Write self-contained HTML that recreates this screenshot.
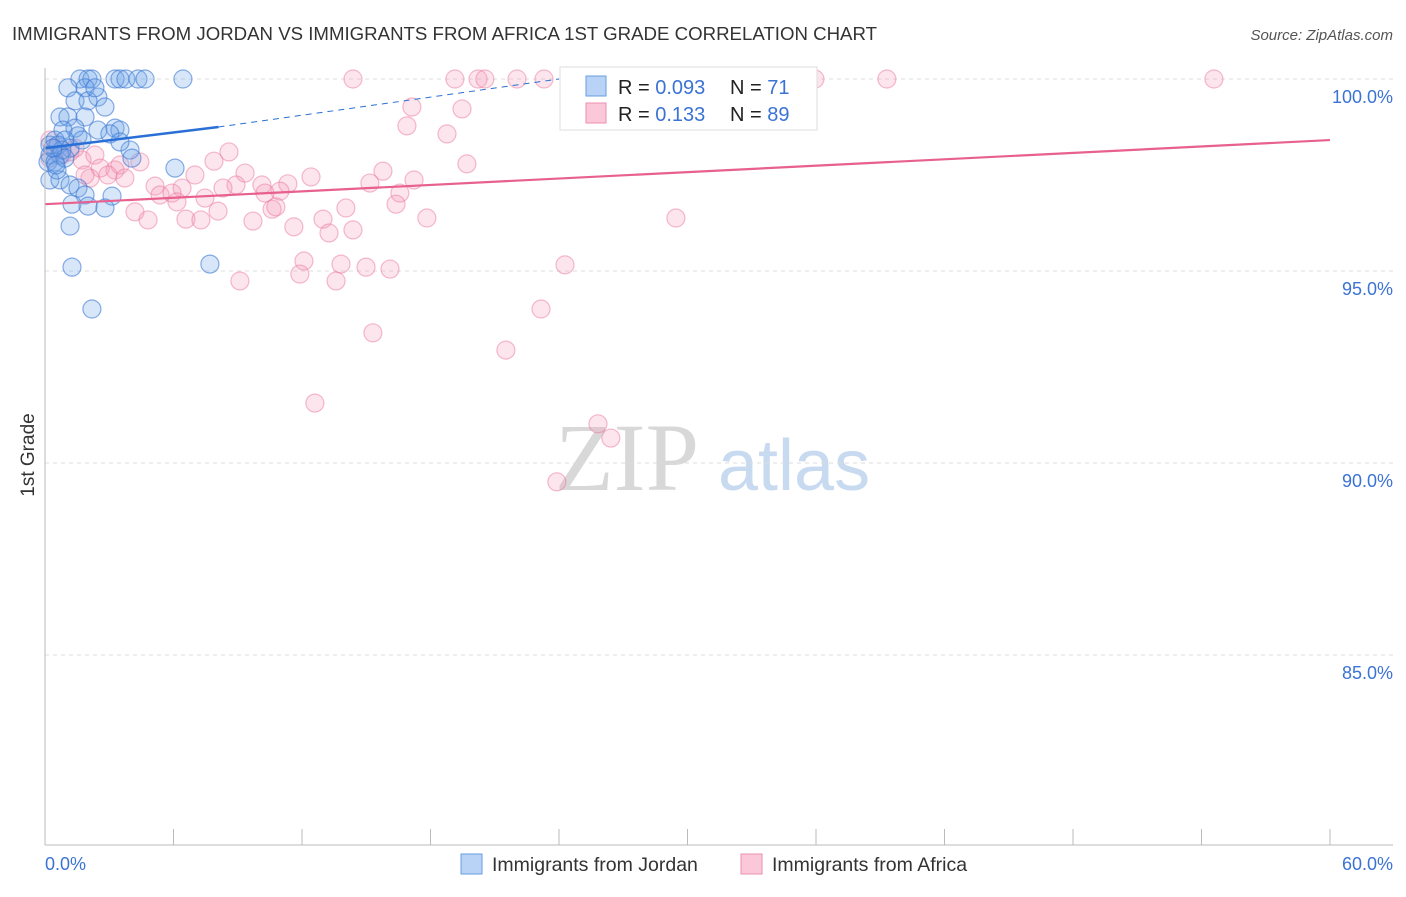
<!DOCTYPE html>
<html><head><meta charset="utf-8"><style>
body{margin:0;background:#fff;font-family:"Liberation Sans",sans-serif}
</style></head><body>
<svg id="chart" width="1406" height="892" xmlns="http://www.w3.org/2000/svg">
<text x="12" y="40" font-size="18.7" fill="#333" textLength="865" lengthAdjust="spacingAndGlyphs">IMMIGRANTS FROM JORDAN VS IMMIGRANTS FROM AFRICA 1ST GRADE CORRELATION CHART</text>
<text x="1393" y="40" font-size="15" fill="#555" text-anchor="end" font-style="italic">Source: ZipAtlas.com</text>
<text x="555" y="490" font-size="96" fill="#d8d8d8" font-family="Liberation Serif">ZIP</text>
<text x="718" y="490" font-size="72" fill="#c8daf0">atlas</text>
<g id="grid"></g><g id="pts"></g><g id="lines"></g>
<line x1="45" y1="68" x2="45" y2="845" stroke="#bbb"/>
<line x1="45" y1="845" x2="1393" y2="845" stroke="#bbb"/>
<text x="34" y="455" font-size="19" fill="#333" text-anchor="middle" transform="rotate(-90 34 455)">1st Grade</text>
<text x="45" y="870" font-size="18" fill="#3b73d4">0.0%</text>
<text x="1393" y="870" font-size="18" fill="#3b73d4" text-anchor="end">60.0%</text>
<g>
<rect x="560" y="67" width="257" height="63" fill="#fff" stroke="#ddd"/>
<rect x="586" y="76" width="20" height="20" fill="#b8d3f5" stroke="#6a9ee0"/>
<rect x="586" y="103" width="20" height="20" fill="#fac8d8" stroke="#ee8fb0"/>
<text x="618" y="94" font-size="20" fill="#222">R = <tspan fill="#3b73d4">0.093</tspan></text>
<text x="730" y="94" font-size="20" fill="#222">N = <tspan fill="#3b73d4"> 71</tspan></text>
<text x="618" y="121" font-size="20" fill="#222">R = <tspan fill="#3b73d4"> 0.133</tspan></text>
<text x="730" y="121" font-size="20" fill="#222">N = <tspan fill="#3b73d4">89</tspan></text>
</g>
<g>
<rect x="461" y="854" width="21" height="20" fill="#b8d3f5" stroke="#6a9ee0"/>
<text x="492" y="871" font-size="19.5" fill="#333">Immigrants from Jordan</text></g>
<g>
<rect x="741" y="854" width="21" height="20" fill="#fac8d8" stroke="#ee8fb0"/>
<text x="772" y="871" font-size="19.5" fill="#333">Immigrants from Africa</text></g>
</svg>
<script>
const yTicks=[100,95,90,85];
const yTickLabels=["100.0%","95.0%","90.0%","85.0%"];
const xTicks=[0,6,12,18,24,30,36,42,48,54,60];
const jordanX=[1.63,2.01,2.19,3.27,3.50,3.78,4.34,4.67,6.44,1.07,1.87,2.47,1.40,2.01,2.80,0.70,1.07,1.87,1.40,0.84,1.54,2.47,3.27,3.50,3.03,0.47,0.93,0.23,0.61,1.17,0.23,0.70,0.14,0.47,3.97,4.06,6.07,0.23,0.70,1.17,1.54,0.56,1.87,3.13,1.26,2.01,2.80,1.17,1.26,7.70,2.19,0.79,2.33,1.73,3.50,0.93,0.37,0.51];
const jordanY=[100,100,100,100,100,100,100,100,100,99.77,99.77,99.53,99.43,99.43,99.27,99.01,99.01,99.01,98.72,98.67,98.52,98.67,98.72,98.67,98.57,98.41,98.41,98.28,98.28,98.20,98.02,98.02,97.84,97.84,98.15,97.94,97.68,97.37,97.37,97.24,97.16,97.63,96.98,96.95,96.74,96.69,96.64,96.17,95.10,95.18,94.01,98.15,99.77,98.41,98.36,97.94,98.2,97.76];
const africaX=[14.38,19.14,20.22,20.54,22.04,23.30,24.75,33.38,35.95,39.31,54.58,17.13,19.47,16.90,18.77,8.59,7.89,19.70,15.78,9.34,12.42,17.23,7.00,8.92,10.13,11.34,15.17,5.14,6.40,8.31,10.97,16.57,5.37,5.93,10.27,7.47,6.16,16.39,10.60,10.78,8.08,4.20,14.05,6.58,4.81,7.28,9.71,12.98,17.83,29.46,11.62,13.26,14.38,12.09,13.82,14.99,16.11,24.28,11.90,9.10,13.59,23.16,15.31,21.52,12.60,25.82,26.42,23.90,0.23,0.47,0.79,1.17,1.73,2.33,2.58,3.27,3.50,3.73,4.43,2.10,2.94,0.23,1.40,1.87];
const africaY=[100,100,100,100,100,100,100,100,100,100,100,99.27,99.22,98.78,98.57,98.10,97.86,97.79,97.60,97.55,97.45,97.37,97.50,97.24,97.24,97.27,97.29,97.21,97.16,97.16,97.08,97.03,96.98,97.03,97.03,96.90,96.80,96.74,96.61,96.67,96.56,96.54,96.64,96.35,96.33,96.33,96.30,96.35,96.38,96.38,96.15,95.99,96.07,95.26,95.18,95.10,95.05,95.16,94.92,94.74,94.74,94.01,93.39,92.94,91.56,91.02,90.65,89.51,98.41,98.2,98.02,98.1,97.89,98.02,97.68,97.63,97.76,97.42,97.84,97.42,97.5,97.94,98.2,97.5];
const jordanTrend=[0,98.2,8.1,98.75,24,100];
const africaTrend=[0,96.74,60,98.41];
const NS="http://www.w3.org/2000/svg";
const sx=v=>45+v*(1285/60);
const sy=v=>79+(100-v)*38.4;
function mk(t,a,p){const e=document.createElementNS(NS,t);for(const k in a)e.setAttribute(k,a[k]);p.appendChild(e);return e;}
const grid=document.getElementById('grid');
yTicks.forEach((v,i)=>{
 const l=mk('line',{x1:45,x2:1393,y1:sy(v),y2:sy(v),stroke:'#ddd','stroke-dasharray':'4,4'},grid);
 
 
 const t=mk('text',{x:1393,y:sy(v)+24,'font-size':18,fill:'#3b73d4','text-anchor':'end'},grid);
 t.textContent=yTickLabels[i];
 
 
});
xTicks.forEach(v=>{
 const l=mk('line',{x1:sx(v),x2:sx(v),y1:829,y2:845,stroke:'#bbb'},grid);
 
 
});
const pts=document.getElementById('pts');
africaX.forEach((x,i)=>{
 const c=mk('circle',{cx:sx(x),cy:sy(africaY[i]),r:9,fill:'rgba(244,150,180,0.25)',stroke:'rgba(236,120,160,0.5)','stroke-width':1.2},pts);
 
 
});
jordanX.forEach((x,i)=>{
 const c=mk('circle',{cx:sx(x),cy:sy(jordanY[i]),r:9,fill:'rgba(110,165,235,0.28)',stroke:'rgba(60,120,210,0.6)','stroke-width':1.2},pts);
 
 
});
const lines=document.getElementById('lines');
let l=mk('line',{x1:sx(jordanTrend[0]),y1:sy(jordanTrend[1]),x2:sx(jordanTrend[2]),y2:sy(jordanTrend[3]),stroke:'#2a6fd6','stroke-width':2.5},lines);


l=mk('line',{x1:sx(jordanTrend[2]),y1:sy(jordanTrend[3]),x2:sx(jordanTrend[4]),y2:sy(jordanTrend[5]),stroke:'#2a6fd6','stroke-width':1,'stroke-dasharray':'6,5'},lines);


l=mk('line',{x1:sx(africaTrend[0]),y1:sy(africaTrend[1]),x2:sx(africaTrend[2]),y2:sy(africaTrend[3]),stroke:'#e8608e','stroke-width':2.2},lines);


</script>
</body></html>
